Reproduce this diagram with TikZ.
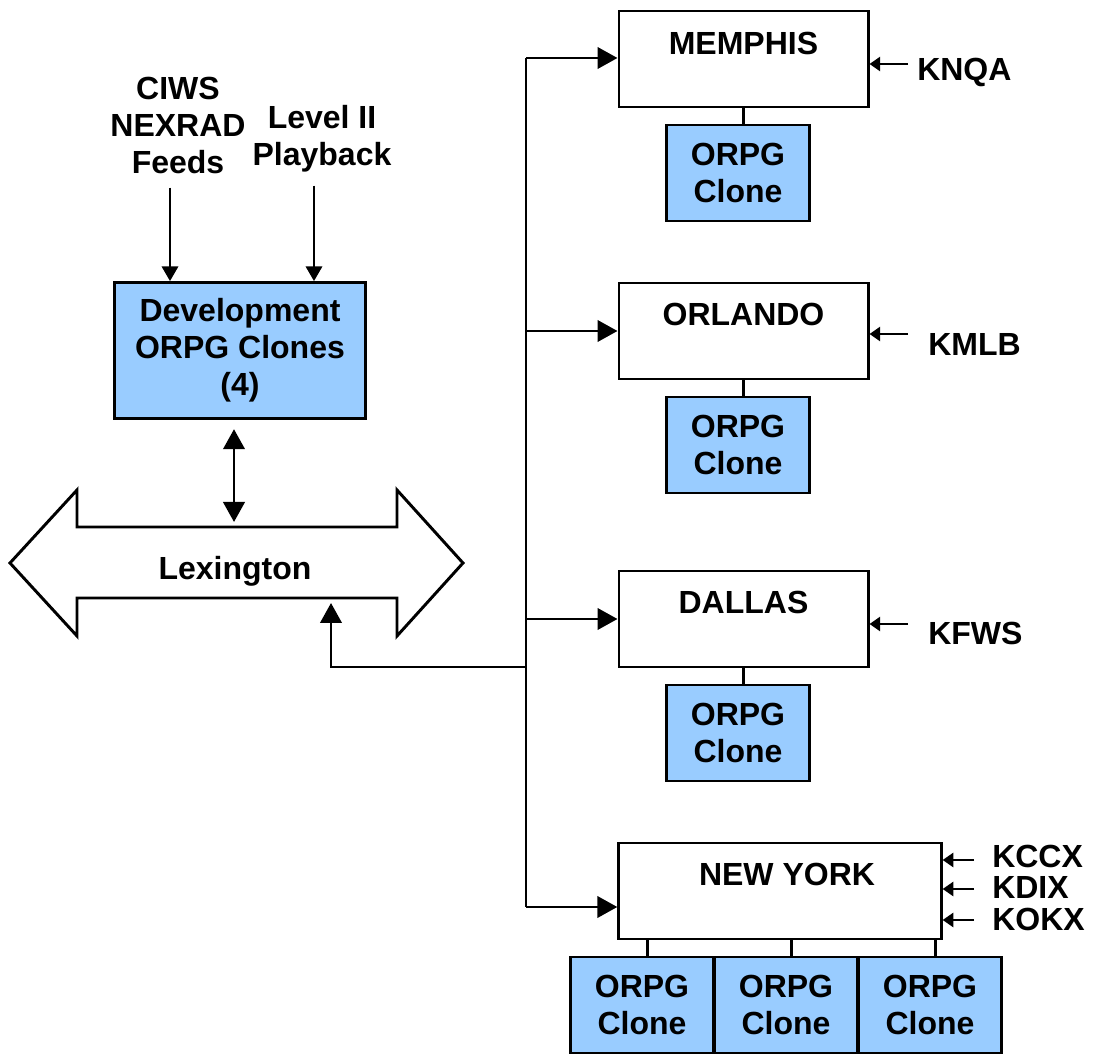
\documentclass[tikz,border=0pt]{standalone}
\usepackage{fontspec}
\setmainfont{Liberation Sans}
\usetikzlibrary{arrows.meta}
\definecolor{clonefill}{HTML}{99CCFF}
\tikzset{
  site/.style={draw, line width=2pt, fill=white, minimum width=187pt, minimum height=72pt, inner sep=0pt},
  clone/.style={draw, line width=2pt, fill=clonefill, minimum width=107pt, minimum height=72pt, align=center, inner sep=0pt},
  wire/.style={line width=2.2pt},
  feed/.style={line width=2.2pt, -{Triangle[length=15pt,width=16pt]}},
  infeed/.style={line width=2.2pt, -{Triangle[length=11pt,width=12pt]}},
  radar/.style={line width=2.2pt, -{Triangle[length=8pt,width=10.5pt]}},
}
\begin{document}
\begin{tikzpicture}[x=0.75pt,y=0.75pt,yscale=-1,xscale=1,
  font=\fontsize{24}{27.75}\selectfont\bfseries]
\useasboundingbox (0,0) rectangle (1101,1055);

%Development clones and their feeds
\node[clone, minimum width=188pt, minimum height=102pt] (dev) at (240,350.5) {Development\\ORPG Clones\\(4)};
\node[align=center, inner sep=0pt] (ciws) at (178,125) {CIWS\\NEXRAD\\Feeds};
\node[align=center, inner sep=0pt] (level) at (322,138.5) {Level II\\Playback};
\draw[infeed] ([xshift=-6pt,yshift=10.5pt]ciws.south) -- ([xshift=-6pt]ciws.south |- dev.north);
\draw[infeed] ([xshift=-6pt,yshift=10pt]level.south) -- ([xshift=-6pt]level.south |- dev.north);

%Lexington double arrow
\draw[wire] (10,563) -- (77,490) -- (77,527) -- (397,527) -- (397,490) -- (463,563)
  -- (397,636) -- (397,598) -- (77,598) -- (77,636) -- cycle;
\node (lex) at (235,571) {Lexington};
\coordinate (lextop) at (234,522);
\coordinate (lexbot) at (331,603);
\draw[line width=2.2pt, {Triangle[length=15pt,width=16pt]}-{Triangle[length=15pt,width=16pt]}]
  ([yshift=7pt]dev.south -| lextop) -- (lextop);

%Sites
\node[site] (memphis) at (743.5,59) {};
\node (memphisname) at (743.5,43) {MEMPHIS};
\node[clone] (memphisclone) at (738,173) {ORPG\\Clone};
\node[site] (orlando) at (743.5,331) {};
\node (orlandoname) at (743.5,314) {ORLANDO};
\node[clone] (orlandoclone) at (738,445) {ORPG\\Clone};
\node[site] (dallas) at (743.5,619) {};
\node (dallasname) at (743.5,602) {DALLAS};
\node[clone] (dallasclone) at (738,733) {ORPG\\Clone};
\node[site, minimum width=242pt] (newyork) at (780,891) {};
\node (newyorkname) at (787,874) {NEW YORK};
\node[clone] (nyclonea) at (642,1005) {ORPG\\Clone};
\node[clone] (nycloneb) at (786,1005) {ORPG\\Clone};
\node[clone] (nyclonec) at (930,1005) {ORPG\\Clone};

\draw[wire] (memphis.south) -- (memphis.south |- memphisclone.north);
\draw[wire] (orlando.south) -- (orlando.south |- orlandoclone.north);
\draw[wire] (dallas.south) -- (dallas.south |- dallasclone.north);
\draw[wire] ([xshift=4pt]nyclonea.north) -- ([xshift=4pt]nyclonea.north |- newyork.south);
\draw[wire] ([xshift=4pt]nycloneb.north) -- ([xshift=4pt]nycloneb.north |- newyork.south);
\draw[wire] ([xshift=4pt]nyclonec.north) -- ([xshift=4pt]nyclonec.north |- newyork.south);

%Bus
\coordinate (bustop) at (526,58);
\coordinate (busbot) at (526,907);
\coordinate (lexjoin) at (526,667);
\draw[wire] (bustop) -- (busbot);
\draw[feed] (bustop) -- (bustop -| memphis.west);
\draw[feed] (bustop |- orlando.west) -- (orlando.west);
\draw[feed] (bustop |- dallas.west) -- (dallas.west);
\draw[feed] (busbot) -- (busbot -| newyork.west);
\draw[feed] (lexjoin) -| (lexbot);

%Radars
\node[anchor=west, inner sep=0pt] (knqa) at (917,72) {KNQA};
\node[anchor=west, inner sep=0pt] (kmlb) at (928,344) {KMLB};
\node[anchor=west, inner sep=0pt] (kfws) at (928,633) {KFWS};
\node[anchor=west, inner sep=0pt] (kccx) at (992,856) {KCCX};
\node[anchor=west, inner sep=0pt] (kdix) at (992,887) {KDIX};
\node[anchor=west, inner sep=0pt] (kokx) at (992,919) {KOKX};
\draw[radar] (908,64) -- (memphis.east |- 0,64);
\draw[radar] (908,334) -- (orlando.east |- 0,334);
\draw[radar] (908,624) -- (dallas.east |- 0,624);
\draw[radar] (974,860) -- (newyork.east |- 0,860);
\draw[radar] (974,889) -- (newyork.east |- 0,889);
\draw[radar] (974,920) -- (newyork.east |- 0,920);
\end{tikzpicture}
\end{document}
